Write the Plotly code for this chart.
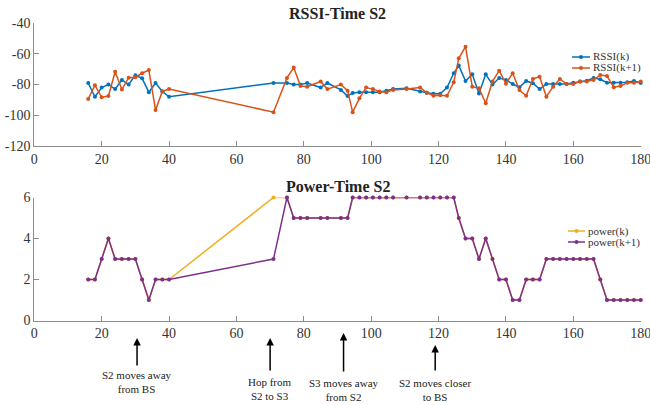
import plotly.graph_objects as go

# ---------------- data ----------------
time = [16, 18, 20, 22, 24, 26, 28, 30, 32, 34, 36, 38, 40,
        71, 75, 77, 79, 81, 85, 87, 91, 93,
        94.5, 96.5, 98.5, 100.5, 102.5, 104.5, 106.5, 110.5, 114.5, 116.5,
        118.5, 120.5, 122.5, 124.5,
        126, 128, 130, 132, 134, 136, 138, 140, 142, 144, 146, 148, 150,
        152, 154, 156, 158, 160, 162, 164, 166, 168, 170, 172, 174, 176, 178, 180]

rssi_k = [-79, -88, -82, -80, -83, -77, -80, -74, -76, -85, -79, -84.5, -88,
          -79, -79, -80, -80, -79, -82, -79, -83.5, -87.5,
          -85.5, -85, -85, -85, -85, -84, -83, -82.5, -84.5, -85.3,
          -86, -86, -82, -72.7,
          -67.7, -77.7, -73.4, -85.8, -73.4, -80, -75.8, -77, -79.7, -81.8, -77.7, -79.2, -83,
          -79.7, -79.7, -79.7, -79.7, -78.8, -78.1, -77.5, -75.8, -76.6, -78.8, -78.8, -78.8,
          -78.5, -77.7, -79]

rssi_k1 = [-89.4, -80.5, -88.3, -87.5, -71.7, -83.2, -75.6, -75.3, -72.7, -70.6, -96.6, -84.5, -83,
           -98, -75.7, -69, -81, -81.5, -78, -83, -80, -84,
           -98, -89, -82, -83, -84.5, -85, -83.5, -83, -82, -85.3,
           -87.3, -87, -87.3, -78.6,
           -63, -55.4, -81.4, -82.5, -92.2, -78, -71, -79.5, -72.7, -83.6, -87.3, -76.4, -74.9,
           -87.9, -81.4, -76.4, -79.7, -79.7, -78.1, -78.1, -77, -73.8, -74.5, -81.8, -81,
           -78.8, -78.8, -78.1]

power_k1 = [2, 2, 3, 4, 3, 3, 3, 3, 2, 1, 2, 2, 2,
            3, 6, 5, 5, 5, 5, 5, 5, 5,
            6, 6, 6, 6, 6, 6, 6, 6, 6, 6,
            6, 6, 6, 6,
            5, 4, 4, 3, 4, 3, 2, 2, 1, 1, 2, 2, 2,
            3, 3, 3, 3, 3, 3, 3, 3, 2, 1, 1, 1, 1, 1, 1]

power_k = [2, 2, 3, 4, 3, 3, 3, 3, 2, 1, 2, 2, 2,
           6, 6, 5, 5, 5, 5, 5, 5, 5,
           6, 6, 6, 6, 6, 6, 6, 6, 6, 6,
           6, 6, 6, 6,
           5, 4, 4, 3, 4, 3, 2, 2, 1, 1, 2, 2, 2,
           3, 3, 3, 3, 3, 3, 3, 3, 2, 1, 1, 1, 1, 1, 1]

x_ticks = [0, 20, 40, 60, 80, 100, 120, 140, 160, 180]
rssi_ticks = [-40, -60, -80, -100, -120]
rssi_ticktext = ["-40", "-60", "-80", "-100", "-120"]
power_ticks = [0, 2, 4, 6]

events_x = [30.5, 70, 91.8, 119]
events_text = ["S2 moves away<br>from BS", "Hop from<br>S2 to S3",
               "S3 moves away<br>from S2", "S2 moves closer<br>to BS"]

# ---------------- style ----------------
FONT = "Liberation Serif"
BLUE, ORANGE, YELLOW, PURPLE = "#0072BD", "#D95319", "#EDB120", "#7E2F8E"
AXC = "#8c8c8c"
TXT = "#333333"
W, H = 650, 405

def py(p):  # pixel from top -> paper
    return (H - p) / H

def px(p):  # pixel from left -> paper
    return p / W

fig = go.Figure()

def add(x, y, name, color, xa, ya):
    fig.add_trace(go.Scatter(
        x=x, y=y, name=name, mode="lines+markers",
        line=dict(color=color, width=1.5),
        marker=dict(color=color, size=4, symbol="circle"),
        xaxis=xa, yaxis=ya, cliponaxis=False, showlegend=False))

add(time, rssi_k, "RSSI(k)", BLUE, "x", "y")
add(time, rssi_k1, "RSSI(k+1)", ORANGE, "x", "y")
add(time, power_k, "power(k)", YELLOW, "x2", "y2")
add(time, power_k1, "power(k+1)", PURPLE, "x2", "y2")

xd = [px(34.3), px(640.7)]
axis_common = dict(showline=True, linecolor=AXC, linewidth=1, ticks="inside",
                   ticklen=5, tickcolor=AXC, showgrid=False, zeroline=False,
                   tickfont=dict(family=FONT, size=14, color=TXT), mirror=False,
                   automargin=False, ticklabeloverflow="allow")

fig.update_layout(
    template="none",
    width=W, height=H, margin=dict(l=0, r=0, t=0, b=0, pad=0),
    paper_bgcolor="white", plot_bgcolor="white",
    font=dict(family=FONT, color=TXT),
    xaxis=dict(domain=xd, range=[0, 180], tickvals=x_ticks, anchor="y", **axis_common),
    yaxis=dict(domain=[py(146), py(23)], range=[-120, -40], tickvals=rssi_ticks,
               ticktext=rssi_ticktext, anchor="x", **axis_common),
    xaxis2=dict(domain=xd, range=[0, 180], tickvals=x_ticks, anchor="y2", **axis_common),
    yaxis2=dict(domain=[py(320.5), py(197.5)], range=[0, 6], tickvals=power_ticks,
                anchor="x2", **axis_common),
    showlegend=False,
)

# manual legends (compact, like the reference)
legend_items = [("RSSI(k)", BLUE, 572, 590, 57), ("RSSI(k+1)", ORANGE, 572, 590, 68),
                ("power(k)", YELLOW, 568, 585, 231), ("power(k+1)", PURPLE, 568, 585, 242)]
for name, color, x0, x1, yy in legend_items:
    fig.add_shape(type="line", xref="paper", yref="paper", x0=px(x0), x1=px(x1),
                  y0=py(yy), y1=py(yy), line=dict(color=color, width=1.5))
    cx = (x0 + x1) / 2
    fig.add_shape(type="circle", xref="paper", yref="paper",
                  x0=px(cx - 2), x1=px(cx + 2), y0=py(yy + 2), y1=py(yy - 2),
                  fillcolor=color, line=dict(color=color, width=0))
    fig.add_annotation(text=name, x=px(x1 + 1), y=py(yy), xref="paper", yref="paper",
                       showarrow=False, xanchor="left", yanchor="middle",
                       font=dict(family=FONT, size=11, color=TXT))

titles = [("RSSI-Time S2", 14), ("Power-Time S2", 187)]
for t, yy in titles:
    fig.add_annotation(text="<b>%s</b>" % t, x=(xd[0] + xd[1]) / 2, y=py(yy),
                       xref="paper", yref="paper", showarrow=False,
                       font=dict(family=FONT, size=16, color="#222222"),
                       xanchor="center", yanchor="middle")

tips = [338, 338, 333, 345]
tails = [367, 372, 373, 372]
text_top = [367, 374, 375, 375]
for ex, et, tp, tl, tt in zip(events_x, events_text, tips, tails, text_top):
    fig.add_annotation(x=ex, y=py(tp), xref="x2", yref="paper", text="",
                       showarrow=True, arrowhead=2, arrowsize=1, arrowwidth=1.5,
                       arrowcolor="#000000", ax=0, ay=tl - tp)
    fig.add_annotation(x=ex, y=py(tt), xref="x2", yref="paper", text=et,
                       showarrow=False, xanchor="center", yanchor="top",
                       font=dict(family=FONT, size=11, color="#222222"))

fig.write_html("out.html")
